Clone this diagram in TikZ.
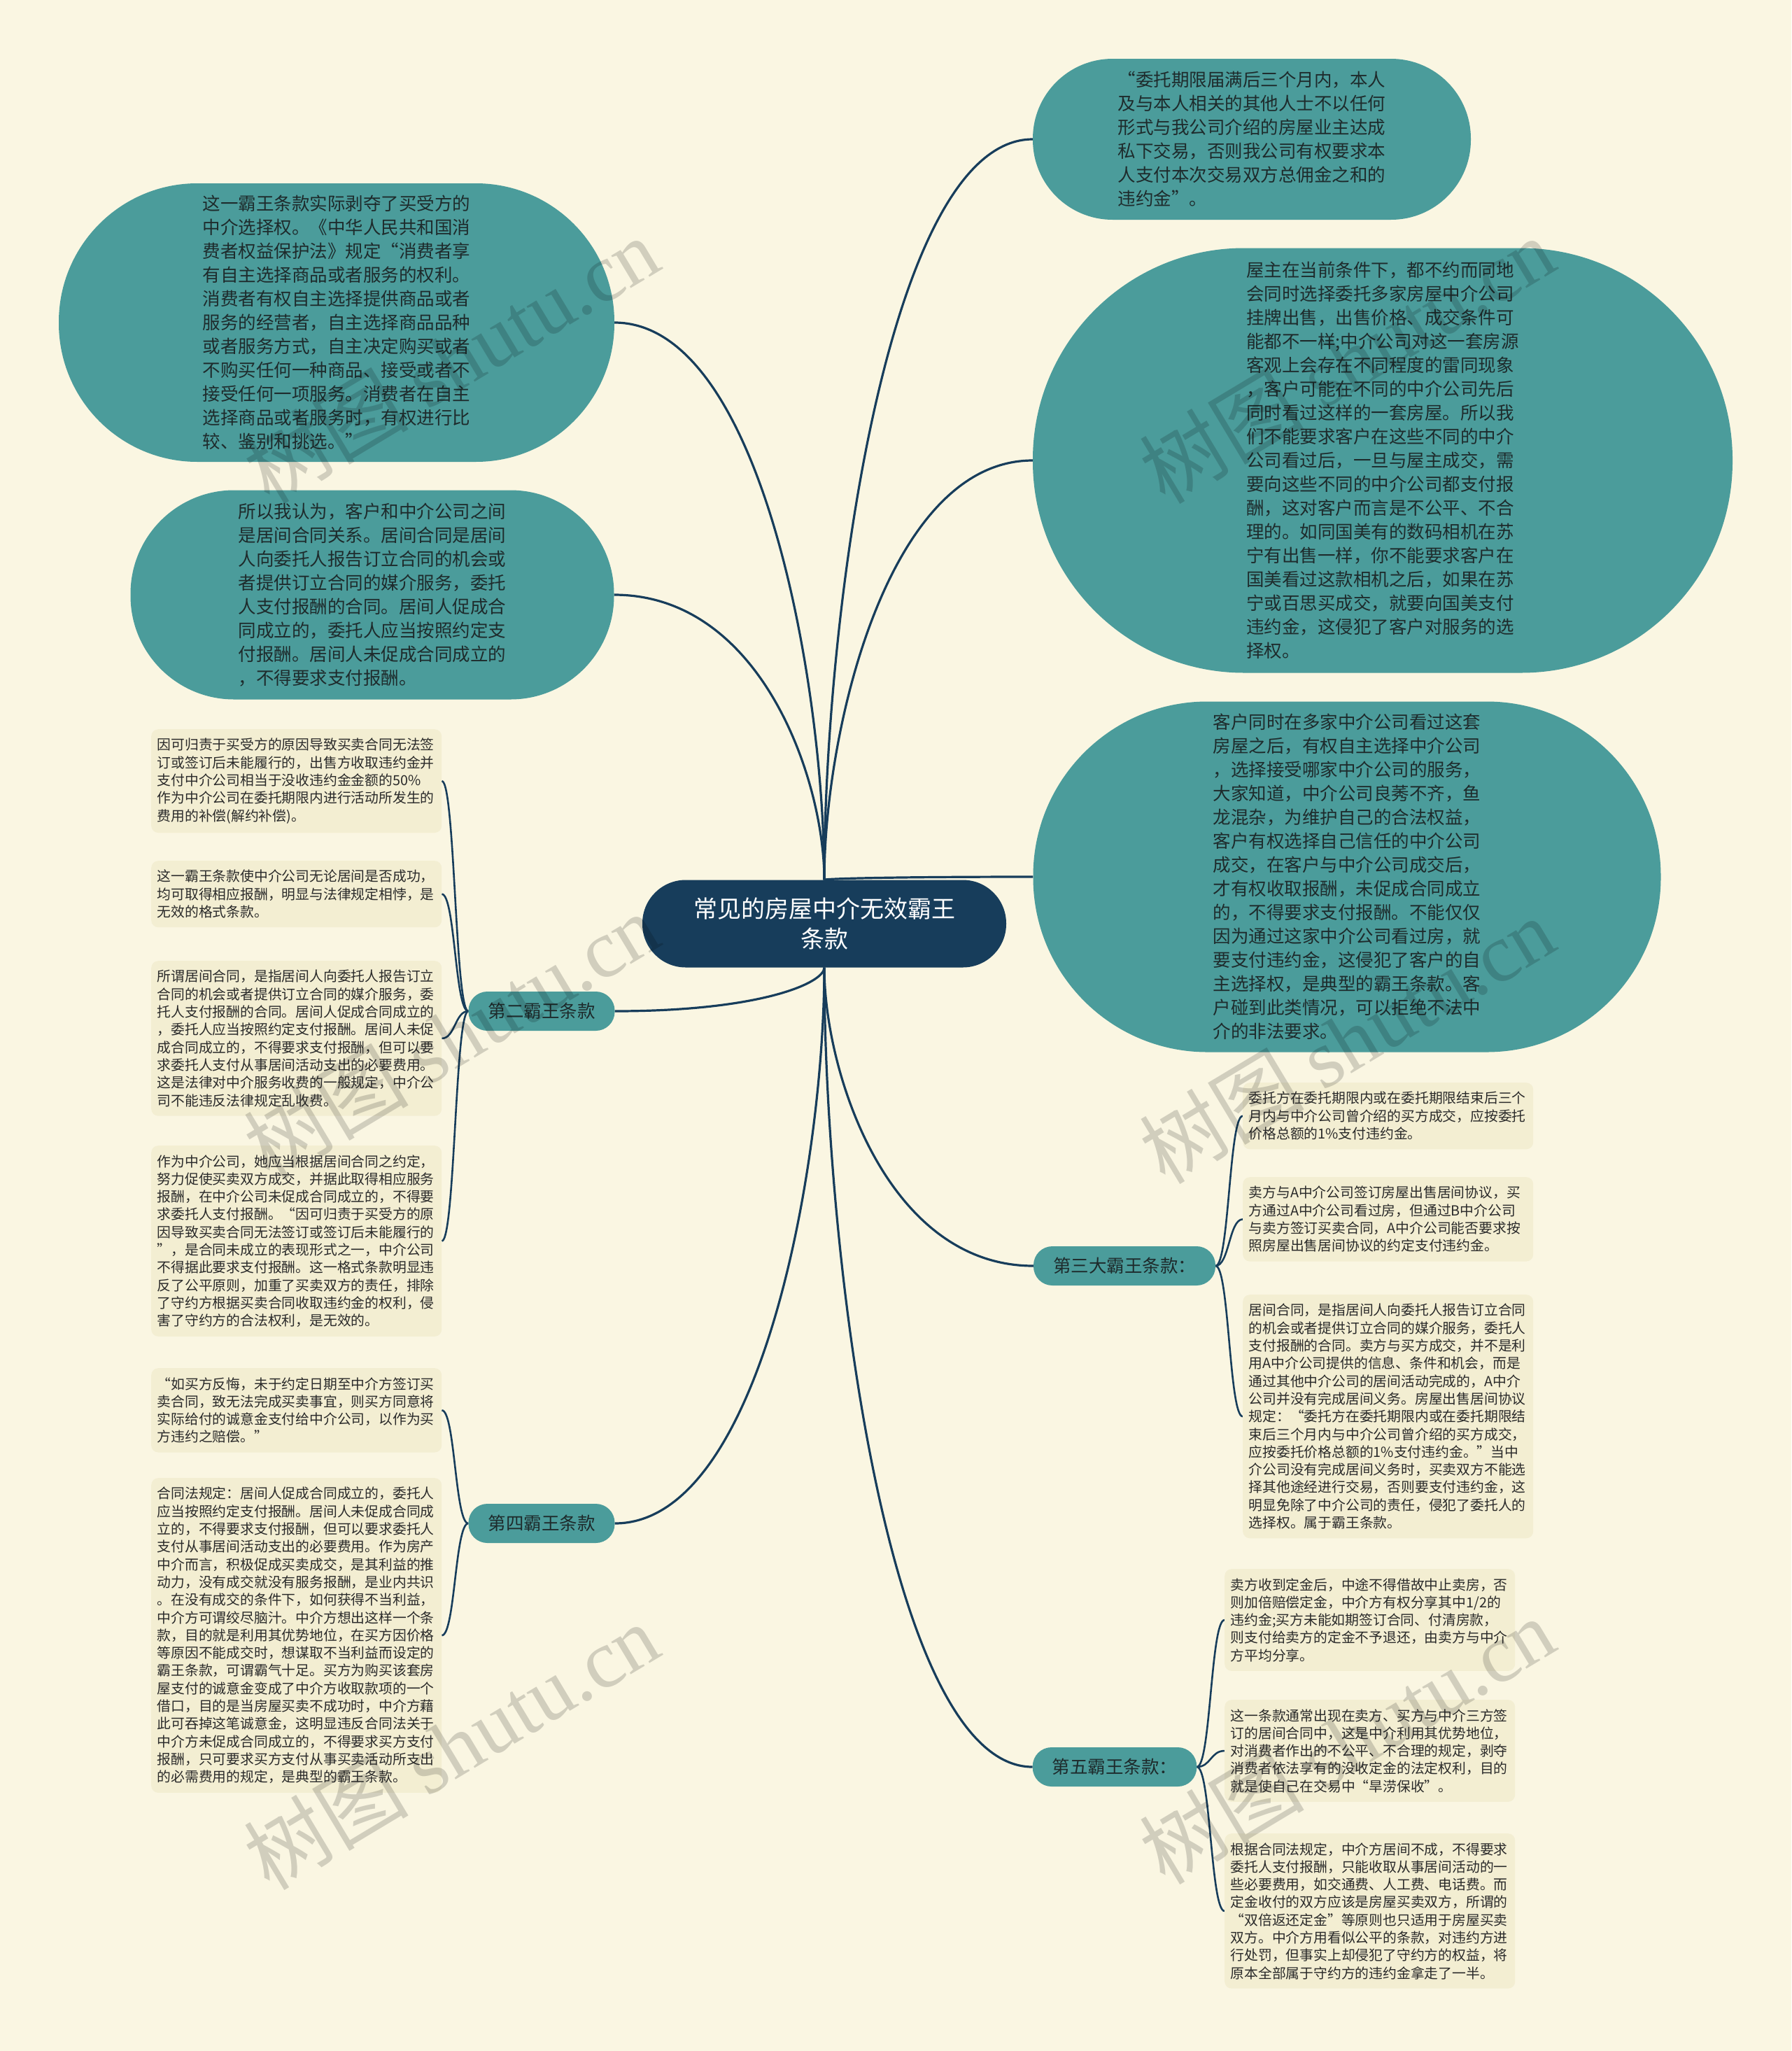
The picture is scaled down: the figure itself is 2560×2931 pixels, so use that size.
\documentclass[tikz,border=0pt]{standalone}
\usepackage{fontspec}
\setmainfont{Noto Sans CJK SC}
\newfontfamily\wmserif{Liberation Serif}
\usetikzlibrary{calc}
\definecolor{bgc}{HTML}{FAF6E2}
\definecolor{tealc}{HTML}{4B9C9B}
\definecolor{navyc}{HTML}{173D5B}
\definecolor{leafc}{HTML}{F3EED2}
\definecolor{darktxt}{HTML}{1E2B2C}
\definecolor{leaftxt}{HTML}{2A2A2A}
\pgfdeclarelayer{bglayer}
\pgfdeclarelayer{edgelayer}
\pgfsetlayers{bglayer,edgelayer,main}
\tikzset{
  bigpill/.style={fill=tealc, text=darktxt, inner sep=0pt, align=left,
    font=\fontsize{25.5}{34}\selectfont},
  centernode/.style={fill=navyc, text=white, inner sep=0pt, align=center,
    minimum width=520pt, minimum height=125pt, rounded corners=62pt,
    font=\fontsize{34}{43}\selectfont},
  subnode/.style={fill=tealc, text=darktxt, inner xsep=28pt, inner ysep=0pt,
    minimum height=56pt, rounded corners=27pt, font=\fontsize{25.5}{30}\selectfont},
  leafbox/.style={fill=leafc, text=leaftxt, rounded corners=10pt, text width=398pt,
    inner xsep=8.5pt, inner ysep=13pt, align=left, anchor=north west,
    font=\fontsize{19.8}{25.3}\selectfont},
  mainedge/.style={draw=navyc, line width=3.2pt},
  leafedge/.style={draw=navyc, line width=2.6pt},
  mmcurve/.style={to path={.. controls ($(\tikztostart)!0.35!(\tikztostart |- \tikztotarget)$) and ($(\tikztostart |- \tikztotarget)!0.3!(\tikztotarget)$) .. (\tikztotarget)}},
  leafcurve/.style={to path={.. controls ($(\tikztostart)!0.5!(\tikztotarget |- \tikztostart)$) and ($(\tikztotarget)!0.5!(\tikztostart |- \tikztotarget)$) .. (\tikztotarget)}},
  wmark/.style={rotate=31, text=black, text opacity=0.16, inner sep=0pt, font=\fontsize{118}{118}\selectfont},
}
\begin{document}
\begin{tikzpicture}[x=1pt,y=-1pt]
\begin{pgfonlayer}{bglayer}
\fill[bgc] (0,0) rectangle (2560,2931);
\end{pgfonlayer}
\useasboundingbox (0,0) rectangle (2560,2931);

% center
\node[centernode] (c) at (1178,1320) {常见的房屋中介无效霸王\\条款};

% right big pills
\node[bigpill, minimum width=626pt, minimum height=230pt, rounded corners=114pt] (re1) at (1789,199) {%
“委托期限届满后三个月内，本人\\
及与本人相关的其他人士不以任何\\
形式与我公司介绍的房屋业主达成\\
私下交易，否则我公司有权要求本\\
人支付本次交易双方总佣金之和的\\
违约金”。};

\node[bigpill, minimum width=1000pt, minimum height=607pt, rounded corners=302pt] (re2) at (1976,658) {%
屋主在当前条件下，都不约而同地\\
会同时选择委托多家房屋中介公司\\
挂牌出售，出售价格、成交条件可\\
能都不一样;中介公司对这一套房源\\
客观上会存在不同程度的雷同现象\\
，客户可能在不同的中介公司先后\\
同时看过这样的一套房屋。所以我\\
们不能要求客户在这些不同的中介\\
公司看过后，一旦与屋主成交，需\\
要向这些不同的中介公司都支付报\\
酬，这对客户而言是不公平、不合\\
理的。如同国美有的数码相机在苏\\
宁有出售一样，你不能要求客户在\\
国美看过这款相机之后，如果在苏\\
宁或百思买成交，就要向国美支付\\
违约金，这侵犯了客户对服务的选\\
择权。};

\node[bigpill, minimum width=897pt, minimum height=501pt, rounded corners=249pt] (re3) at (1925,1253) {%
客户同时在多家中介公司看过这套\\
房屋之后，有权自主选择中介公司\\
，选择接受哪家中介公司的服务，\\
大家知道，中介公司良莠不齐，鱼\\
龙混杂，为维护自己的合法权益，\\
客户有权选择自己信任的中介公司\\
成交，在客户与中介公司成交后，\\
才有权收取报酬，未促成合同成立\\
的，不得要求支付报酬。不能仅仅\\
因为通过这家中介公司看过房，就\\
要支付违约金，这侵犯了客户的自\\
主选择权，是典型的霸王条款。客\\
户碰到此类情况，可以拒绝不法中\\
介的非法要求。};

% left big pills
\node[bigpill, minimum width=794pt, minimum height=398pt, rounded corners=198pt] (le1) at (481,461) {%
这一霸王条款实际剥夺了买受方的\\
中介选择权。《中华人民共和国消\\
费者权益保护法》规定“消费者享\\
有自主选择商品或者服务的权利。\\
消费者有权自主选择提供商品或者\\
服务的经营者，自主选择商品品种\\
或者服务方式，自主决定购买或者\\
不购买任何一种商品、接受或者不\\
接受任何一项服务。消费者在自主\\
选择商品或者服务时，有权进行比\\
较、鉴别和挑选。”};

\node[bigpill, minimum width=691pt, minimum height=299pt, rounded corners=148pt] (le2) at (532,850) {%
所以我认为，客户和中介公司之间\\
是居间合同关系。居间合同是居间\\
人向委托人报告订立合同的机会或\\
者提供订立合同的媒介服务，委托\\
人支付报酬的合同。居间人促成合\\
同成立的，委托人应当按照约定支\\
付报酬。居间人未促成合同成立的\\
，不得要求支付报酬。};

% sub nodes
\node[subnode] (n2) at (774,1445) {第二霸王条款};
\node[subnode] (n4) at (774,2177) {第四霸王条款};
\node[subnode] (n3) at (1607,1809) {第三大霸王条款：};
\node[subnode] (n5) at (1593,2525) {第五霸王条款：};

% leaves of 第二
\node[leafbox] (l1) at (216,1042) {%
因可归责于买受方的原因导致买卖合同无法签\\
订或签订后未能履行的，出售方收取违约金并\\
支付中介公司相当于没收违约金金额的50\%\\
作为中介公司在委托期限内进行活动所发生的\\
费用的补偿(解约补偿)。};
\node[leafbox] (l2) at (216,1230) {%
这一霸王条款使中介公司无论居间是否成功，\\
均可取得相应报酬，明显与法律规定相悖，是\\
无效的格式条款。};
\node[leafbox] (l3) at (216,1373) {%
所谓居间合同，是指居间人向委托人报告订立\\
合同的机会或者提供订立合同的媒介服务，委\\
托人支付报酬的合同。居间人促成合同成立的\\
，委托人应当按照约定支付报酬。居间人未促\\
成合同成立的，不得要求支付报酬，但可以要\\
求委托人支付从事居间活动支出的必要费用。\\
这是法律对中介服务收费的一般规定，中介公\\
司不能违反法律规定乱收费。};
\node[leafbox] (l4) at (216,1637) {%
作为中介公司，她应当根据居间合同之约定，\\
努力促使买卖双方成交，并据此取得相应服务\\
报酬，在中介公司未促成合同成立的，不得要\\
求委托人支付报酬。“因可归责于买受方的原\\
因导致买卖合同无法签订或签订后未能履行的\\
”，是合同未成立的表现形式之一，中介公司\\
不得据此要求支付报酬。这一格式条款明显违\\
反了公平原则，加重了买卖双方的责任，排除\\
了守约方根据买卖合同收取违约金的权利，侵\\
害了守约方的合法权利，是无效的。};

% leaves of 第四
\node[leafbox] (l5) at (216,1955) {%
“如买方反悔，未于约定日期至中介方签订买\\
卖合同，致无法完成买卖事宜，则买方同意将\\
实际给付的诚意金支付给中介公司，以作为买\\
方违约之赔偿。”};
\node[leafbox] (l6) at (216,2112) {%
合同法规定：居间人促成合同成立的，委托人\\
应当按照约定支付报酬。居间人未促成合同成\\
立的，不得要求支付报酬，但可以要求委托人\\
支付从事居间活动支出的必要费用。作为房产\\
中介而言，积极促成买卖成交，是其利益的推\\
动力，没有成交就没有服务报酬，是业内共识\\
。在没有成交的条件下，如何获得不当利益，\\
中介方可谓绞尽脑汁。中介方想出这样一个条\\
款，目的就是利用其优势地位，在买方因价格\\
等原因不能成交时，想谋取不当利益而设定的\\
霸王条款，可谓霸气十足。买方为购买该套房\\
屋支付的诚意金变成了中介方收取款项的一个\\
借口，目的是当房屋买卖不成功时，中介方藉\\
此可吞掉这笔诚意金，这明显违反合同法关于\\
中介方未促成合同成立的，不得要求买方支付\\
报酬，只可要求买方支付从事买卖活动所支出\\
的必需费用的规定，是典型的霸王条款。};

% leaves of 第三大
\node[leafbox] (r1) at (1776,1547) {%
委托方在委托期限内或在委托期限结束后三个\\
月内与中介公司曾介绍的买方成交，应按委托\\
价格总额的1\%支付违约金。};
\node[leafbox] (r2) at (1776,1682) {%
卖方与A中介公司签订房屋出售居间协议，买\\
方通过A中介公司看过房，但通过B中介公司\\
与卖方签订买卖合同，A中介公司能否要求按\\
照房屋出售居间协议的约定支付违约金。};
\node[leafbox] (r3) at (1776,1850) {%
居间合同，是指居间人向委托人报告订立合同\\
的机会或者提供订立合同的媒介服务，委托人\\
支付报酬的合同。卖方与买方成交，并不是利\\
用A中介公司提供的信息、条件和机会，而是\\
通过其他中介公司的居间活动完成的，A中介\\
公司并没有完成居间义务。房屋出售居间协议\\
规定：“委托方在委托期限内或在委托期限结\\
束后三个月内与中介公司曾介绍的买方成交，\\
应按委托价格总额的1\%支付违约金。”当中\\
介公司没有完成居间义务时，买卖双方不能选\\
择其他途经进行交易，否则要支付违约金，这\\
明显免除了中介公司的责任，侵犯了委托人的\\
选择权。属于霸王条款。};

% leaves of 第五
\node[leafbox] (r4) at (1750,2242) {%
卖方收到定金后，中途不得借故中止卖房，否\\
则加倍赔偿定金，中介方有权分享其中1/2的\\
违约金;买方未能如期签订合同、付清房款，\\
则支付给卖方的定金不予退还，由卖方与中介\\
方平均分享。};
\node[leafbox] (r5) at (1750,2429) {%
这一条款通常出现在卖方、买方与中介三方签\\
订的居间合同中，这是中介利用其优势地位，\\
对消费者作出的不公平、不合理的规定，剥夺\\
消费者依法享有的没收定金的法定权利，目的\\
就是使自己在交易中“旱涝保收”。};
\node[leafbox] (r6) at (1750,2620) {%
根据合同法规定，中介方居间不成，不得要求\\
委托人支付报酬，只能收取从事居间活动的一\\
些必要费用，如交通费、人工费、电话费。而\\
定金收付的双方应该是房屋买卖双方，所谓的\\
“双倍返还定金”等原则也只适用于房屋买卖\\
双方。中介方用看似公平的条款，对违约方进\\
行处罚，但事实上却侵犯了守约方的权益，将\\
原本全部属于守约方的违约金拿走了一半。};

% connectors
\begin{pgfonlayer}{edgelayer}
\draw[mainedge] (c.north) to[mmcurve] (re1.west);
\draw[mainedge] (c.north) to[mmcurve] (re2.west);
\draw[mainedge] (c.north) to[mmcurve] (re3.west);
\draw[mainedge] (c.north) to[mmcurve] (le1.east);
\draw[mainedge] (c.north) to[mmcurve] (le2.east);
\draw[mainedge] (c.south) to[mmcurve] (n2.east);
\draw[mainedge] (c.south) to[mmcurve] (n4.east);
\draw[mainedge] (c.south) to[mmcurve] (n3.west);
\draw[mainedge] (c.south) to[mmcurve] (n5.west);
\foreach \l in {l1,l2,l3,l4} \draw[leafedge] (n2.west) to[leafcurve] (\l.east);
\foreach \l in {l5,l6} \draw[leafedge] (n4.west) to[leafcurve] (\l.east);
\foreach \l in {r1,r2,r3} \draw[leafedge] (n3.east) to[leafcurve] (\l.west);
\foreach \l in {r4,r5,r6} \draw[leafedge] (n5.east) to[leafcurve] (\l.west);
\end{pgfonlayer}

% watermarks
\node[wmark] (w1) at (645,514) {树图 {\wmserif shutu.cn}};
\node[wmark] (w2) at (1925,514) {树图 {\wmserif shutu.cn}};
\node[wmark] (w3) at (645,1480) {树图 {\wmserif shutu.cn}};
\node[wmark] (w4) at (1925,1486) {树图 {\wmserif shutu.cn}};
\node[wmark] (w5) at (645,2495) {树图 {\wmserif shutu.cn}};
\node[wmark] (w6) at (1925,2487) {树图 {\wmserif shutu.cn}};
\end{tikzpicture}
\end{document}
